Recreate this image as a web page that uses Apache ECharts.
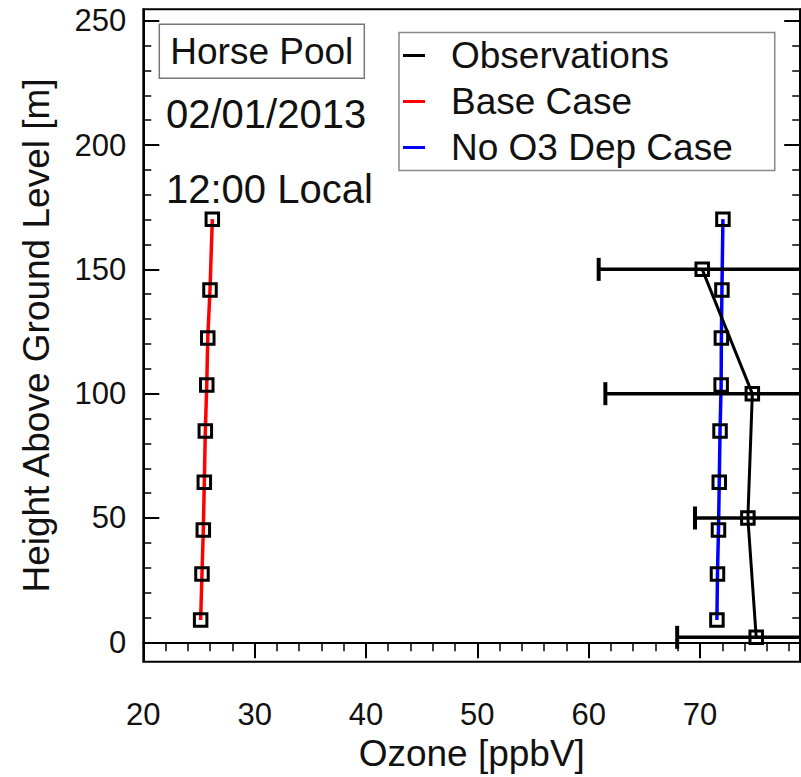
<!DOCTYPE html>
<html><head><meta charset="utf-8">
<script src="https://cdn.jsdelivr.net/npm/echarts@6/dist/echarts.min.js"></script>
<style>html,body{margin:0;padding:0;background:#fff}#chart{width:801px;height:777px}</style>
</head><body><div id="chart"></div>
<script>
// ---- data ----
const heights  = [9.0, 27.5, 45.2, 64.4, 85.0, 103.5, 122.4, 141.7, 170.2];
const baseCase = [25.15, 25.27, 25.39, 25.48, 25.57, 25.70, 25.79, 25.99, 26.20];
const noO3Dep  = [71.52, 71.57, 71.66, 71.73, 71.80, 71.90, 71.92, 71.97, 72.06];
const obsHeights = [2, 50, 100, 150];
const obsOzone   = [75.05, 74.3, 74.7, 70.2];
const obsErr     = [7.1, 4.75, 13.2, 9.3];
const xMajorTicks = [20, 30, 40, 50, 60, 70];
const xMinorTicks = [22, 24, 26, 28, 32, 34, 36, 38, 42, 44, 46, 48, 52, 54, 56, 58, 62, 64, 66, 68, 72, 74, 76, 78];
const yMajorTicks = [0, 50, 100, 150, 200, 250];
const yMinorTicks = [10, 20, 30, 40, 60, 70, 80, 90, 110, 120, 130, 140, 160, 170, 180, 190, 210, 220, 230, 240];
const seriesNames = ['Observations', 'Base Case', 'No O3 Dep Case'];
const seriesColors = ['#000000', '#ff0000', '#0000ff'];
const stationLabel = 'Horse Pool';
const dateLabel = '02/01/2013';
const timeLabel = '12:00 Local';
const xTitle = 'Ozone [ppbV]';
const yTitle = 'Height Above Ground Level [m]';

// ---- chart ----
const FONT = 'Liberation Sans, Arial, Helvetica, sans-serif';
const X_MIN = 20, X_MAX = 79, Y_MIN = -7.8, Y_MAX = 254.6;
const chart = echarts.init(document.getElementById('chart'), null, {renderer: 'svg'});

function xAxisDef(major) {
  return {
    type: 'value', min: X_MIN, max: X_MAX, position: 'bottom', gridIndex: 0,
    axisLine: {show: major, lineStyle: {color: '#000', width: 2}},
    axisTick: {show: true, inside: false, length: major ? 16 : 9,
      customValues: major ? xMajorTicks : xMinorTicks,
      lineStyle: {color: '#000', width: major ? 2 : 1.5}},
    axisLabel: major ? {show: true, customValues: xMajorTicks, fontSize: 31, margin: 37,
      color: '#111', fontFamily: FONT} : {show: false},
    splitLine: {show: false},
    name: major ? xTitle : '', nameLocation: 'middle', nameGap: 71,
    nameTextStyle: {fontSize: 37, color: '#111', fontFamily: FONT}
  };
}
function yAxisDef(major, pos, labels) {
  return {
    type: 'value', min: Y_MIN, max: Y_MAX, position: pos, gridIndex: 0,
    axisLine: {show: major, lineStyle: {color: '#000', width: 2}},
    axisTick: {show: true, inside: true, length: major ? 16 : 8,
      customValues: major ? yMajorTicks : yMinorTicks,
      lineStyle: {color: '#000', width: major ? 2 : 1.5}},
    axisLabel: labels ? {show: true, customValues: yMajorTicks, fontSize: 31, margin: 17,
      color: '#111', fontFamily: FONT} : {show: false},
    splitLine: {show: false},
    name: labels ? yTitle : '', nameLocation: 'middle', nameGap: 88,
    nameTextStyle: {fontSize: 37, color: '#111', fontFamily: FONT}
  };
}

const squareSymbol = {
  symbol: 'rect', symbolSize: 12.5, showSymbol: true,
  itemStyle: {color: 'rgba(0,0,0,0)', borderColor: '#000', borderWidth: 3}
};

const option = {
  animation: false,
  backgroundColor: '#fff',
  textStyle: {fontFamily: FONT},
  grid: {left: 143.3, right: 0.8, top: 9.3, bottom: 115.3, show: true,
    borderColor: '#000', borderWidth: 2, backgroundColor: 'rgba(0,0,0,0)',
    containLabel: false, outerBoundsMode: 'none'},
  title: [
    {text: stationLabel, left: 159.3, top: 24.3, padding: [9, 11, 9, 11],
      borderColor: '#777', borderWidth: 1.5,
      textStyle: {fontSize: 37, lineHeight: 36, fontWeight: 'normal', color: '#111', fontFamily: FONT}},
    {text: dateLabel, left: 166, top: 94, padding: 0,
      textStyle: {fontSize: 40, lineHeight: 40, fontWeight: 'normal', color: '#111', fontFamily: FONT}},
    {text: timeLabel, left: 166, top: 169, padding: 0,
      textStyle: {fontSize: 40, lineHeight: 40, fontWeight: 'normal', color: '#111', fontFamily: FONT}}
  ],
  legend: {
    orient: 'vertical', left: 399, top: 32.5, padding: [0, 42, 0, 4], itemGap: 0,
    itemWidth: 22, itemHeight: 3, icon: 'rect', selectedMode: false,
    borderColor: '#888', borderWidth: 1.5, backgroundColor: 'rgba(0,0,0,0)',
    textStyle: {fontSize: 37, lineHeight: 44, padding: [2, 0, 0, 21], color: '#111', fontFamily: FONT},
    data: seriesNames.map((n, i) => ({name: n, itemStyle: {color: seriesColors[i], borderWidth: 0}}))
  },
  xAxis: [xAxisDef(true), xAxisDef(false)],
  yAxis: [yAxisDef(true, 'left', true), yAxisDef(false, 'left', false),
          yAxisDef(true, 'right', false), yAxisDef(false, 'right', false)],
  series: [
    Object.assign({
      name: seriesNames[1], type: 'line',
      data: heights.map((h, i) => [baseCase[i], h]),
      lineStyle: {color: seriesColors[1], width: 3.5},
      emphasis: {disabled: true}, z: 2
    }, squareSymbol),
    Object.assign({
      name: seriesNames[2], type: 'line',
      data: heights.map((h, i) => [noO3Dep[i], h]),
      lineStyle: {color: seriesColors[2], width: 3.5},
      emphasis: {disabled: true}, z: 2
    }, squareSymbol),
    {
      name: 'obs-error', type: 'custom', z: 3,
      encode: {x: [0, 1], y: 2},
      data: obsHeights.map((h, i) => [obsOzone[i] - obsErr[i], obsOzone[i] + obsErr[i], h]),
      renderItem: function (params, api) {
        const lo = api.value(0), hi = api.value(1), h = api.value(2);
        const p1 = api.coord([lo, h]), p2 = api.coord([hi, h]);
        const cs = params.coordSys;
        const xl = Math.max(p1[0], cs.x), xr = Math.min(p2[0], cs.x + cs.width);
        const capH = 11.5;
        const children = [{type: 'line', shape: {x1: xl, y1: p1[1], x2: xr, y2: p1[1]},
          style: {stroke: '#000', lineWidth: 3.5}}];
        if (p1[0] >= cs.x) children.push({type: 'line',
          shape: {x1: p1[0], y1: p1[1] - capH, x2: p1[0], y2: p1[1] + capH},
          style: {stroke: '#000', lineWidth: 4}});
        if (p2[0] <= cs.x + cs.width) children.push({type: 'line',
          shape: {x1: p2[0], y1: p2[1] - capH, x2: p2[0], y2: p2[1] + capH},
          style: {stroke: '#000', lineWidth: 4}});
        return {type: 'group', children: children};
      }
    },
    Object.assign({
      name: seriesNames[0], type: 'line', z: 4,
      data: obsHeights.map((h, i) => [obsOzone[i], h]),
      lineStyle: {color: seriesColors[0], width: 3},
      emphasis: {disabled: true}
    }, squareSymbol)
  ]
};
chart.setOption(option);
</script>
</body></html>
